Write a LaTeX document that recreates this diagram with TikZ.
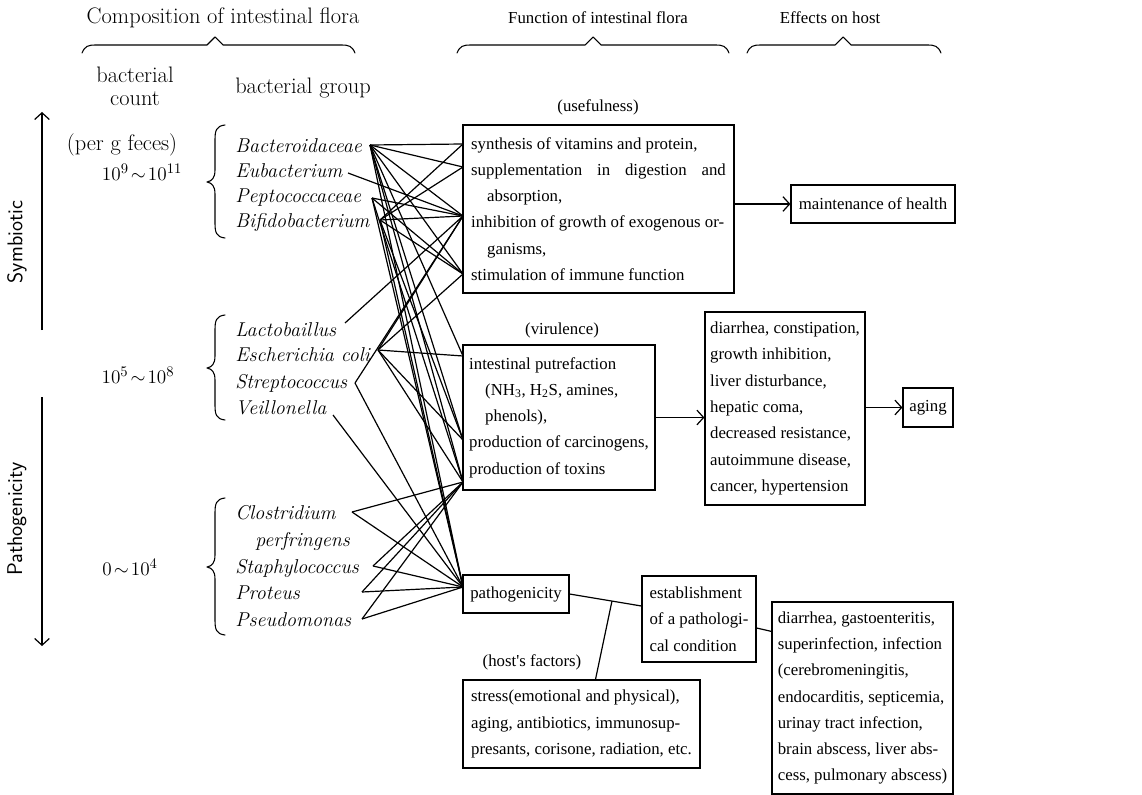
\documentclass[tikz,border=0pt]{standalone}
\usepackage{fontspec}
\newfontfamily\rfont{Liberation Serif}
\usetikzlibrary{arrows.meta,calc}
\begin{document}
\begin{tikzpicture}[x=0.75pt,y=-0.75pt,
  rtext/.style={font=\fontsize{12.6}{19.7}\selectfont\rfont, inner sep=0pt},
  box/.style={draw, line width=0.9pt, rtext, align=left, inner sep=0pt},
  ltext/.style={font=\fontsize{16.8}{17.5}\selectfont, inner sep=0pt, align=center},
  numtext/.style={font=\fontsize{15.4}{17}\selectfont, inner sep=0pt},
  bact/.style={font=\fontsize{15}{17}\selectfont\itshape, inner sep=0pt, anchor=base west},
  side/.style={font=\fontsize{16}{18}\selectfont\sffamily, inner sep=0pt, rotate=90},
  web/.style={line width=0.9pt},
  conn/.style={line width=0.9pt},
  arr/.style={line width=0.9pt, -{Straight Barb[length=5pt,width=11pt]}},
  bracepath/.style={line width=0.8pt, line join=round, line cap=round},
]
\useasboundingbox (0,0) rectangle (1142,795);

% ---------------- headings ----------------
\node[ltext] (hcomp) at (223,18) {Composition of intestinal flora};
\node[rtext] (hfunc) at (598,18) {Function of intestinal flora};
\node[rtext] (heff) at (830,18) {Effects on host};

\draw[bracepath] (82,53) .. controls (85,46) and (88,45) .. (96,45) -- (207,45) -- (215,37) -- (223,45) -- (341,45) .. controls (349,45) and (352,46) .. (355,53);
\draw[bracepath] (457,53) .. controls (460,46) and (463,45) .. (471,45) -- (585,45) -- (593,37) -- (601,45) -- (715,45) .. controls (723,45) and (726,46) .. (729,53);
\draw[bracepath] (747,53) .. controls (750,46) and (753,45) .. (761,45) -- (835,45) -- (843,37) -- (851,45) -- (927,45) .. controls (935,45) and (938,46) .. (941,53);

% ---------------- left column ----------------
\node[ltext] (bcount) at (135,86) {bacterial\\count};
\node[ltext] (bgroup) at (303,88) {bacterial group};
\node[ltext] (perg) at (122,145) {(per g feces)};
\node[numtext] (n1) at (142,172) {$10^{9}\!\sim\!10^{11}$};
\node[numtext] (n2) at (138,375) {$10^{5}\!\sim\!10^{8}$};
\node[numtext] (n3) at (130,567) {$0\!\sim\!10^{4}$};

\node[side] (symb) at (17,242) {Symbiotic};
\node[side] (patho) at (17,519) {Pathogenicity};
\coordinate (sa0) at (42,330);
\coordinate (sa1) at (42,112);
\coordinate (pa0) at (42,397);
\coordinate (pa1) at (42,646);
\draw[arr] (sa0) -- (sa1);
\draw[arr] (pa0) -- (pa1);

% curly braces of groups
\draw[bracepath] (225,125) .. controls (216,126) and (215,131) .. (215,140) -- (215,170) .. controls (215,178) and (212,181) .. (207,182) .. controls (212,183) and (215,186) .. (215,194) -- (215,223) .. controls (215,232) and (216,237) .. (225,238);
\draw[bracepath] (225,315) .. controls (216,316) and (215,321) .. (215,330) -- (215,356) .. controls (215,364) and (212,367) .. (207,368) .. controls (212,369) and (215,372) .. (215,380) -- (215,405) .. controls (215,414) and (216,419) .. (225,420);
\draw[bracepath] (225,498) .. controls (216,499) and (215,504) .. (215,513) -- (215,555) .. controls (215,563) and (212,566) .. (207,567) .. controls (212,568) and (215,571) .. (215,579) -- (215,620) .. controls (215,629) and (216,634) .. (225,635);

% bacteria names
\node[bact] (nbac) at (235,153) {Bacteroidaceae};
\node[bact] (neub) at (235,178) {Eubacterium};
\node[bact] (npep) at (235,203) {Peptococcaceae};
\node[bact] (nbif) at (235,228) {Bifidobacterium};
\node[bact] (nlac) at (235,336) {Lactobaillus};
\node[bact] (neco) at (235,361) {Escherichia coli};
\node[bact] (nstr) at (235,388) {Streptococcus};
\node[bact] (nvei) at (235,414) {Veillonella};
\node[bact] (nclo) at (235,519) {Clostridium};
\node[bact] (nper) at (255,546) {perfringens};
\node[bact] (nsta) at (235,573) {Staphylococcus};
\node[bact] (npro) at (235,599) {Proteus};
\node[bact] (npse) at (235,626) {Pseudomonas};

% ---------------- right boxes ----------------
\node[rtext] (luse) at (598,107) {(usefulness)};
\node[box, minimum width=203.25pt, minimum height=126pt] (use) at (598.5,209) {%
synthesis of vitamins and protein,\\
\makebox[191pt][s]{supplementation in digestion and}\\
\hspace*{12pt}absorption,\\
inhibition of growth of exogenous or-\\
\hspace*{12pt}ganisms,\\
stimulation of immune function};
\node[box, minimum width=123pt, minimum height=28.5pt] (maint) at (873,204) {maintenance of health};

\node[rtext] (lvir) at (562,330) {(virulence)};
\node[box, minimum width=144pt, minimum height=108.75pt] (vir) at (559,417.5) {%
intestinal putrefaction\\
\hspace*{12pt}(NH\textsubscript{3}, H\textsubscript{2}S, amines,\\
\hspace*{12pt}phenols),\\
production of carcinogens,\\
production of toxins};

\node[box, minimum width=120pt, minimum height=144.75pt] (dis) at (785,408.5) {%
diarrhea, constipation,\\
growth inhibition,\\
liver disturbance,\\
hepatic coma,\\
decreased resistance,\\
autoimmune disease,\\
cancer, hypertension};
\node[box, minimum width=37.5pt, minimum height=29.25pt] (aging) at (928,407.5) {aging};

\node[box, minimum width=79.5pt, minimum height=28.5pt] (pat) at (516,594) {pathogenicity};
\node[box, minimum width=85.5pt, minimum height=64.5pt] (est) at (699,619) {%
establishment\\
of a pathologi-\\
cal condition};
\node[box, minimum width=135.75pt, minimum height=144pt] (dia) at (862.5,698) {%
diarrhea, gastoenteritis,\\
superinfection, infection\\
(cerebromeningitis,\\
endocarditis, septicemia,\\
urinay tract infection,\\
brain abscess, liver abs-\\
cess, pulmonary abscess)};
\node[rtext] (lhost) at (532,662) {(host's factors)};
\node[box, minimum width=177.75pt, minimum height=66pt] (host) at (581.5,724) {%
stress(emotional and physical),\\
aging, antibiotics, immunosup-\\
presants, corisone, radiation, etc.};

% ---------------- right connectors ----------------
\draw[arr] (use.east |- maint.west) -- (maint.west);
\draw[arr] (vir.east) -- (vir.east -| dis.west);
\draw[arr] (dis.east |- aging.west) -- (aging.west);
\coordinate (ew) at ([yshift=9.75pt]est.west);
\draw[conn] (pat.east) -- (ew);
\coordinate (hj) at ($(pat.east)!0.59!(ew)$);
\draw[conn] (hj) -- ([xshift=10.5pt]host.north);
\draw[conn] ([yshift=-6.75pt]est.east) -- ([yshift=-22.5pt]dia.north west);

% ---------------- web of lines ----------------
\coordinate (bac) at (370,145);
\coordinate (eub) at (348,173);
\coordinate (pep) at (372,198);
\coordinate (bif) at (380,220);
\coordinate (lac) at (345,323);
\coordinate (eco) at (378,350);
\coordinate (str) at (355,383);
\coordinate (vei) at (333,415);
\coordinate (clo) at (352,512);
\coordinate (sta) at (373,566);
\coordinate (pro) at (362,592);
\coordinate (pse) at (362,619);
\coordinate (r1) at (463,144);
\coordinate (r2) at (463,167);
\coordinate (r3) at (463,216);
\coordinate (r4) at (463,274);
\coordinate (r5) at (463,356);
\coordinate (r6) at (463,440);
\coordinate (r7) at (463,482);
\coordinate (r8) at (463,587);
\foreach \a/\b in {bac/r1,bac/r2,bac/r3,bac/r4,bac/r5,bac/r6,bac/r7,bac/r8,
  eub/r3,
  pep/r3,pep/r4,pep/r7,pep/r8,
  bif/r1,bif/r2,bif/r3,bif/r4,bif/r6,bif/r8,
  lac/r3,
  eco/r3,eco/r4,eco/r5,eco/r6,eco/r7,
  str/r3,str/r8,
  vei/r8,
  clo/r7,clo/r8,sta/r7,sta/r8,pro/r7,pro/r8,pse/r7,pse/r8}
  \draw[web] (\a) -- (\b);
\end{tikzpicture}
\end{document}
